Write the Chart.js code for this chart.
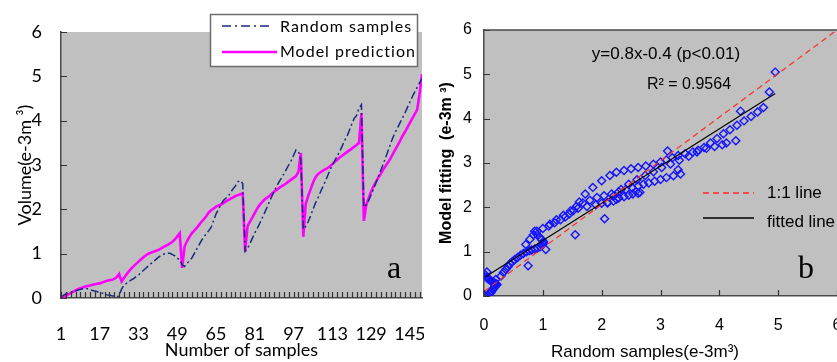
<!DOCTYPE html>
<html>
<head>
<meta charset="utf-8">
<script src="https://cdn.jsdelivr.net/npm/chart.js@4.4.1/dist/chart.umd.min.js"></script>
<style>
  html, body { margin:0; padding:0; background:#fff; overflow:hidden; width:837px; height:362px; }
  #wrapA { position:absolute; left:0; top:0; width:424px; height:362px; }
  #wrapB { position:absolute; left:422px; top:0; width:435px; height:362px; }
</style>
</head>
<body>
<div id="wrapA"><canvas id="chartA"></canvas></div>
<div id="wrapB"><canvas id="chartB"></canvas></div>
<script>
// ── DATA ───────────────────────────────────────────────
// panel a: volume per sample (e-3 m3), samples 1..150
const RANDOM_SAMPLES = [
  0.02,0.06,0.09,0.12,0.13,0.15,0.16,0.18,0.19,0.21,
  0.22,0.21,0.19,0.17,0.16,0.14,0.12,0.11,0.09,0.07,
  0.06,0.05,0.04,0.03,0.05,0.20,0.29,0.33,0.37,0.41,
  0.44,0.48,0.52,0.57,0.62,0.67,0.72,0.77,0.81,0.86,
  0.91,0.95,0.98,1.00,1.01,1.01,0.98,0.95,0.90,0.86,
  0.75,0.71,0.78,0.84,0.90,1.00,1.10,1.20,1.30,1.38,
  1.45,1.52,1.60,1.75,1.90,2.00,2.10,2.20,2.25,2.29,
  2.38,2.46,2.53,2.62,2.65,2.58,1.05,1.12,1.23,1.35,
  1.47,1.57,1.68,1.80,1.92,2.04,2.17,2.29,2.41,2.52,
  2.62,2.71,2.80,2.90,3.00,3.10,3.22,3.34,3.30,3.12,
  1.55,1.62,1.72,1.85,2.00,2.14,2.25,2.38,2.50,2.62,
  2.75,2.88,3.00,3.10,3.20,3.30,3.42,3.55,3.64,3.78,
  3.92,4.05,4.12,4.28,4.36,2.05,2.10,2.20,2.33,2.46,
  2.60,2.74,2.88,3.02,3.17,3.32,3.48,3.62,3.74,3.85,
  3.96,4.07,4.18,4.30,4.42,4.54,4.65,4.75,4.85,4.95
];
const MODEL_PREDICTION = [
  0.00,0.02,0.05,0.08,0.11,0.14,0.17,0.20,0.22,0.24,
  0.26,0.27,0.28,0.30,0.31,0.32,0.33,0.35,0.37,0.39,
  0.40,0.41,0.43,0.47,0.54,0.37,0.45,0.53,0.60,0.66,
  0.72,0.77,0.82,0.87,0.92,0.96,1.00,1.02,1.04,1.06,
  1.08,1.11,1.14,1.17,1.20,1.23,1.27,1.32,1.39,1.46,
  0.68,1.16,1.28,1.38,1.46,1.52,1.58,1.65,1.72,1.78,
  1.85,1.93,1.98,2.02,2.06,2.09,2.11,2.14,2.18,2.21,
  2.24,2.27,2.30,2.32,2.34,2.36,1.05,1.62,1.72,1.82,
  1.92,2.02,2.10,2.16,2.22,2.26,2.30,2.35,2.40,2.44,
  2.48,2.52,2.55,2.59,2.63,2.67,2.71,2.75,2.85,3.27,
  1.38,2.12,2.30,2.45,2.60,2.72,2.79,2.83,2.87,2.90,
  2.93,2.97,3.02,3.07,3.12,3.17,3.21,3.25,3.29,3.33,
  3.37,3.41,3.45,3.50,4.17,1.74,2.10,2.25,2.40,2.52,
  2.62,2.72,2.80,2.90,2.98,3.06,3.15,3.25,3.35,3.45,
  3.55,3.66,3.75,3.85,3.95,4.05,4.15,4.25,4.60,5.05
];
const SAMPLE_NO = RANDOM_SAMPLES.map((_, i) => i + 1);
const X_TICK_LABELS = [1, 17, 33, 49, 65, 81, 97, 113, 129, 145];

// panel b: fitted line and 1:1 reference
const FIT_SLOPE = 0.84, FIT_INTERCEPT = 0.41;
const FIT_X = [0.02, 4.95];
const ONE_TO_ONE = [[0, 0.1], [6, 6]];

// ── COLOURS / FONTS ───────────────────────────────────
const PLOT_GRAY = "#c0c0c0";
const AXIS_GRAY = "#4a4a4a";
const TICK_GRAY = "#333333";
const NO_COLOR  = "rgba(0,0,0,0)";
const SANS_A = "Lato";
const SANS_B = "'Liberation Sans', Arial";

// gray plot background
const plotBg = {
  id: "plotBg",
  beforeDraw(chart) {
    const { ctx, chartArea: a } = chart;
    ctx.save();
    ctx.fillStyle = PLOT_GRAY;
    ctx.fillRect(a.left, a.top, a.right - a.left, a.bottom - a.top);
    ctx.restore();
  }
};

// short tick marks pointing into the plot, at the scales' own ticks
function drawInwardTicks(chart, xLen, yLen) {
  const { ctx, chartArea: a, scales } = chart;
  ctx.save();
  ctx.setLineDash([]);
  ctx.strokeStyle = TICK_GRAY;
  ctx.lineWidth = 1.2;
  ctx.beginPath();
  scales.x.ticks.forEach(t => {
    const px = Math.round(scales.x.getPixelForValue(t.value)) + 0.5;
    ctx.moveTo(px, a.bottom); ctx.lineTo(px, a.bottom - xLen);
  });
  scales.y.ticks.forEach(t => {
    const py = Math.round(scales.y.getPixelForValue(t.value)) + 0.5;
    ctx.moveTo(a.left, py); ctx.lineTo(a.left + yLen, py);
  });
  ctx.stroke();
  ctx.restore();
}

// tick padding would otherwise push the plot area in
const noScalePad = s => {
  s.paddingLeft = 0; s.paddingRight = 0;
  s.paddingTop = 0; s.paddingBottom = 0;
};

// ── PANEL A ───────────────────────────────────────────
const notesA = {
  id: "notesA",
  afterDraw(chart) {
    drawInwardTicks(chart, 6, 6);

    const ctx = chart.ctx;
    ctx.save();
    ctx.fillStyle = "#fff";
    ctx.fillRect(210, 14, 207, 52);
    ctx.strokeStyle = "#6e6e6e";
    ctx.lineWidth = 1.5;
    ctx.strokeRect(210.5, 14.5, 207, 52);

    ctx.strokeStyle = "#1c2a80";
    ctx.lineWidth = 1.6;
    ctx.setLineDash([9, 4, 2, 4]);
    ctx.beginPath(); ctx.moveTo(222, 26); ctx.lineTo(272, 26); ctx.stroke();
    ctx.setLineDash([]);
    ctx.strokeStyle = "#ff00ff";
    ctx.lineWidth = 2.5;
    ctx.beginPath(); ctx.moveTo(222, 52); ctx.lineTo(277, 52); ctx.stroke();

    ctx.fillStyle = "#000";
    ctx.font = "16px " + SANS_A;
    ctx.letterSpacing = "1px";
    ctx.textBaseline = "middle";
    ctx.fillText("Random samples", 280, 27);
    ctx.fillText("Model prediction", 280, 52);

    ctx.letterSpacing = "0px";
    ctx.font = "32px 'Liberation Serif', serif";
    ctx.textAlign = "center";
    ctx.textBaseline = "alphabetic";
    ctx.fillText("a", 394, 278);
    ctx.restore();
  }
};

new Chart(document.getElementById("chartA"), {
  type: "line",
  data: {
    datasets: [
      {
        label: "Random samples",
        data: SAMPLE_NO.map((s, i) => ({ x: s, y: RANDOM_SAMPLES[i] })),
        borderColor: "#1c2a80",
        borderWidth: 1.5,
        borderDash: [8, 3, 2, 3],
        pointRadius: 0,
        tension: 0
      },
      {
        label: "Model prediction",
        data: SAMPLE_NO.map((s, i) => ({ x: s, y: MODEL_PREDICTION[i] })),
        borderColor: "#ff00ff",
        borderWidth: 2.6,
        pointRadius: 0,
        tension: 0
      }
    ]
  },
  options: {
    responsive: true,
    maintainAspectRatio: false,
    animation: false,
    layout: { padding: { left: 0, right: 2, top: 32, bottom: 0 } },
    plugins: { legend: { display: false }, tooltip: { enabled: false } },
    scales: {
      x: {
        type: "linear",
        min: 1, max: 150,
        afterBuildTicks: s => {
          const t = [];
          for (let v = 1; v <= 149; v += 2) t.push({ value: v });
          s.ticks = t;
        },
        afterFit: s => { s.height = 64; noScalePad(s); },
        ticks: {
          autoSkip: false, maxRotation: 0, padding: 30,
          color: "#000",
          font: { family: SANS_A, size: 18 },
          callback: v => X_TICK_LABELS.includes(v) ? String(v) : ""
        },
        grid: { drawOnChartArea: false, tickLength: -5, color: NO_COLOR },
        border: { display: true, color: AXIS_GRAY, width: 1.5 },
        title: {
          display: true, text: "Number of samples", color: "#000",
          font: { family: SANS_A, size: 18 }, padding: { top: 0, bottom: 1 }
        }
      },
      y: {
        min: 0, max: 6,
        afterFit: s => { s.width = 61; noScalePad(s); },
        ticks: {
          stepSize: 1, padding: 24, color: "#000",
          font: { family: SANS_A, size: 18 }
        },
        grid: { drawOnChartArea: false, tickLength: -5, color: NO_COLOR },
        border: { display: true, color: AXIS_GRAY, width: 1.5 },
        title: {
          display: true, text: "Volume(e-3m \u00b3)", color: "#000",
          font: { family: SANS_A, size: 18 }, padding: { top: 14, bottom: 0 }
        }
      }
    }
  },
  plugins: [plotBg, notesA]
});

// ── PANEL B ───────────────────────────────────────────
const notesB = {
  id: "notesB",
  afterDraw(chart) {
    drawInwardTicks(chart, 6, 6);

    const { ctx, chartArea: a } = chart;
    ctx.save();
    // top frame line
    ctx.strokeStyle = AXIS_GRAY;
    ctx.lineWidth = 1.5;
    ctx.beginPath(); ctx.moveTo(a.left, a.top); ctx.lineTo(a.right, a.top); ctx.stroke();

    ctx.fillStyle = "#000";
    ctx.textBaseline = "middle";
    ctx.textAlign = "center";
    ctx.font = "17px " + SANS_B;
    ctx.fillText("y=0.8x-0.4 (p<0.01)", 244, 54);
    ctx.font = "16px " + SANS_B;
    ctx.fillText("R\u00b2 = 0.9564", 267, 85);

    // x axis title (centred on the uncropped figure, as in the source)
    ctx.font = "17px " + SANS_B;
    ctx.fillText("Random samples(e-3m\u00b3)", 223, 352);

    // inner legend
    ctx.strokeStyle = "#ff2a2a";
    ctx.lineWidth = 1.3;
    ctx.setLineDash([6, 4]);
    ctx.beginPath(); ctx.moveTo(281, 193); ctx.lineTo(332, 193); ctx.stroke();
    ctx.setLineDash([]);
    ctx.strokeStyle = "#000";
    ctx.beginPath(); ctx.moveTo(281, 218); ctx.lineTo(332, 218); ctx.stroke();
    ctx.textAlign = "left";
    ctx.font = "17px " + SANS_B;
    ctx.fillText("1:1 line", 345, 193);
    ctx.fillText("fitted line", 345, 222);

    ctx.font = "32px 'Liberation Serif', serif";
    ctx.textAlign = "center";
    ctx.textBaseline = "alphabetic";
    ctx.fillText("b", 384, 278);
    ctx.restore();
  }
};

new Chart(document.getElementById("chartB"), {
  type: "scatter",
  data: {
    datasets: [
      {
        type: "line",
        label: "1:1 line",
        data: ONE_TO_ONE.map(p => ({ x: p[0], y: p[1] })),
        borderColor: "#ff2a2a",
        borderWidth: 1.2,
        borderDash: [6, 4],
        pointRadius: 0
      },
      {
        type: "line",
        label: "fitted line",
        data: FIT_X.map(x => ({ x: x, y: FIT_SLOPE * x + FIT_INTERCEPT })),
        borderColor: "#000",
        borderWidth: 1.2,
        pointRadius: 0
      },
      {
        label: "samples",
        data: RANDOM_SAMPLES.map((r, i) => ({ x: r, y: MODEL_PREDICTION[i] })),
        pointStyle: "rectRot",
        pointRadius: 4,
        pointBorderWidth: 1.4,
        pointBorderColor: "#1414ff",
        pointBackgroundColor: NO_COLOR
      }
    ]
  },
  options: {
    responsive: true,
    maintainAspectRatio: false,
    animation: false,
    layout: { padding: { left: 0, right: 20, top: 30, bottom: 0 } },
    plugins: { legend: { display: false }, tooltip: { enabled: false } },
    scales: {
      x: {
        type: "linear",
        min: 0, max: 6,
        afterFit: s => { s.height = 66; noScalePad(s); },
        ticks: {
          stepSize: 1, padding: 25, maxRotation: 0, color: "#000",
          font: { family: SANS_B, size: 16 }
        },
        grid: { drawOnChartArea: false, tickLength: -5, color: NO_COLOR },
        border: { display: true, color: AXIS_GRAY, width: 1.5 }
      },
      y: {
        min: 0, max: 6,
        afterFit: s => { s.width = 62; noScalePad(s); },
        ticks: {
          stepSize: 1, padding: 17, color: "#000",
          font: { family: SANS_B, size: 16 }
        },
        grid: { drawOnChartArea: false, tickLength: -5, color: NO_COLOR },
        border: { display: true, color: AXIS_GRAY, width: 1.5 },
        title: {
          display: true, text: "Model fitting  (e-3m \u00b3)", color: "#000",
          font: { family: SANS_B, size: 16, weight: "bold" }, padding: { top: 15, bottom: 0 }
        }
      }
    }
  },
  plugins: [plotBg, notesB]
});
</script>
</body>
</html>
